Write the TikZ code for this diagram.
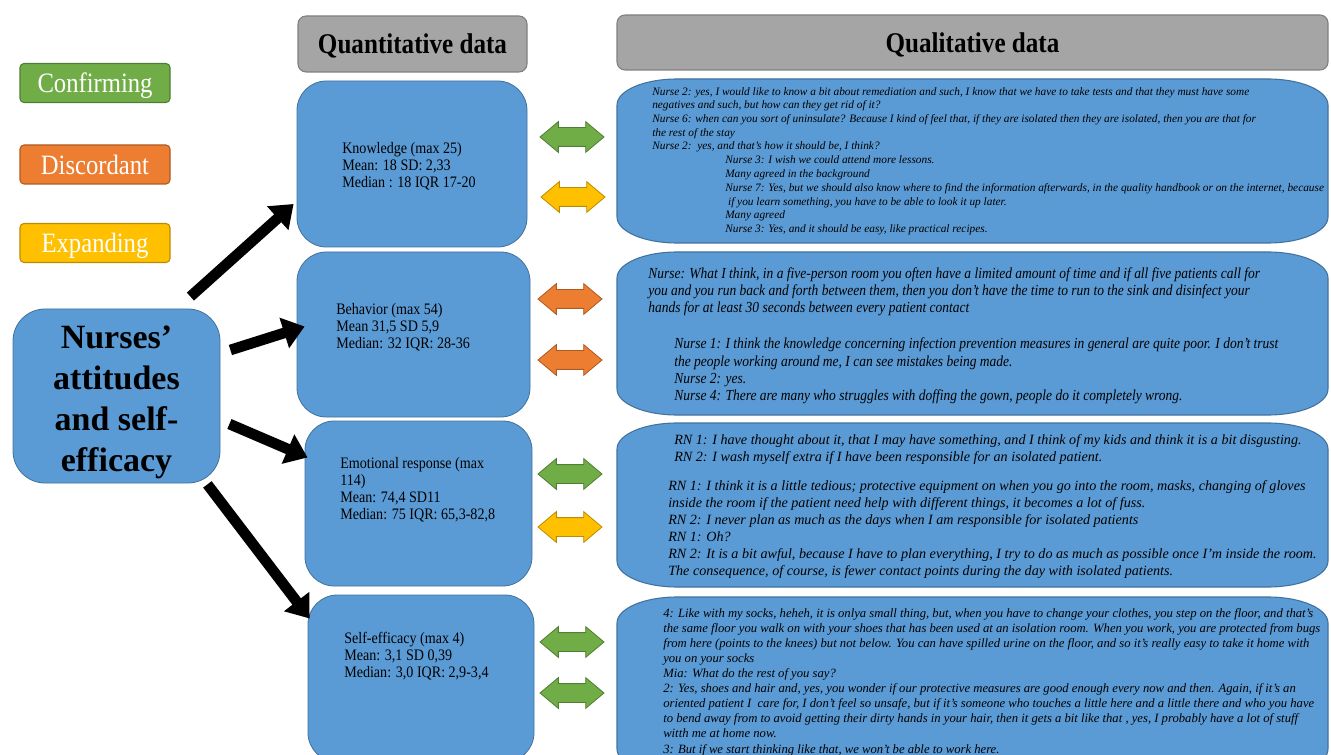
\documentclass[tikz,border=0pt]{standalone}
\usepackage{fontspec}
\usepackage{tikz}
\usetikzlibrary{arrows.meta,positioning,calc,shapes.arrows}
\setmainfont{Liberation Serif}
\newfontfamily\narrowserif{Liberation Serif}[FakeStretch=0.88]
\definecolor{nrblue}{HTML}{5B9BD5}
\definecolor{nrbluedark}{HTML}{41719C}
\definecolor{nrgray}{HTML}{A5A5A5}
\definecolor{nrgraydark}{HTML}{7F7F7F}
\definecolor{nrgreen}{HTML}{70AD47}
\definecolor{nrgreendark}{HTML}{507E32}
\definecolor{nrorange}{HTML}{ED7D31}
\definecolor{nrorangedark}{HTML}{AE5A21}
\definecolor{nryellow}{HTML}{FFC000}
\definecolor{nryellowdark}{HTML}{BC8C00}
\tikzset{
  headBox/.style={draw=nrgraydark, fill=nrgray, rounded corners=6pt, line width=0.8pt, text depth=0pt, font=\narrowserif\bfseries\fontsize{21.4pt}{24pt}\selectfont},
  legendBox/.style={draw=#1dark, fill=#1, rounded corners=3pt, line width=0.8pt, minimum width=112.5pt, minimum height=29.25pt, text depth=0pt, text=white, font=\narrowserif\fontsize{21pt}{24pt}\selectfont},
  quantBox/.style={draw=nrbluedark, fill=nrblue, rounded corners=22pt, line width=0.6pt},
  quantText/.style={anchor=base west, inner sep=0pt, align=left, font=\narrowserif\fontsize{12pt}{12.75pt}\selectfont},
  quoteBox/.style={draw=nrbluedark, fill=nrblue, line width=0.8pt},
  quoteText/.style={anchor=base west, inner sep=0pt, align=left},
  bigArrow/.style={-{Triangle[length=16pt,width=23pt]}, line width=8pt},
  dblArrow/.style={double arrow, draw=#1dark, fill=#1, line width=0.6pt, minimum height=48pt, minimum width=22.5pt,
    double arrow head extend=4.5pt, double arrow tip angle=80, inner xsep=0pt, inner ysep=6.75pt}
}

\begin{document}
\begin{tikzpicture}[x=0.75pt,y=-0.75pt]
  \clip (0,0) rectangle (1331,755);
  % legend and headers
  \node[legendBox=nrgreen] (conf) at (95,83) {Confirming};
  \node[legendBox=nrorange] (disc) at (95,164.5) {Discordant};
  \node[legendBox=nryellow] (expa) at (95,243) {Expanding};
  \node[headBox, minimum width=171.75pt, minimum height=42pt] (quanthead) at (412.5,44) {Quantitative data};
  \node[headBox, minimum width=533.25pt, minimum height=41.25pt] (qualhead) at (972.5,42.5) {Qualitative data};
  % central theme
  \node[quantBox, rounded corners=24pt, minimum width=155.25pt, minimum height=130.5pt] (theme) at (116.5,396) {};
  \node[align=center, font=\bfseries\fontsize{25.5pt}{30.75pt}\selectfont] (themetext) at ($(theme.center)+(0,6)$) {Nurses’\\attitudes\\and self-\\efficacy};
  % quantitative boxes
  \node[quantBox, minimum width=172.5pt, minimum height=124.5pt] (know) at (412,164) {};
  \node[quantBox, minimum width=174.75pt, minimum height=123.75pt] (behav) at (413.5,334.5) {};
  \node[quantBox, minimum width=170.25pt, minimum height=123.75pt] (emot) at (418.5,503.5) {};
  \node[quantBox, minimum width=169.5pt, minimum height=125.25pt] (selfeff) at (421,678.5) {};
  \node[quantText] (knowtext) at (342,188) {Knowledge (max 25)\\Mean: 18 SD: 2,33\\Median : 18 IQR 17-20};
  \node[quantText] (behavtext) at (336,349) {Behavior (max 54)\\Mean 31,5 SD 5,9\\Median: 32 IQR: 28-36};
  \node[quantText] (emottext) at (340,519) {Emotional response (max\\114)\\Mean: 74,4 SD11\\Median: 75 IQR: 65,3-82,8};
  \node[quantText] (selftext) at (344,677) {Self-efficacy (max 4)\\Mean: 3,1 SD 0,39\\Median: 3,0 IQR: 2,9-3,4};
  % arrows from the theme
  \draw[bigArrow] ($(theme.north east)+(-30,-12)$) -- ($(know.west)+(-3,40)$);
  \draw[bigArrow] ($(theme.east)+(10,-46)$) -- ($(behav.west)+(8,-8)$);
  \draw[bigArrow] ($(theme.east)+(9,28)$) -- ($(emot.west)+(3,-46)$);
  \draw[bigArrow] ($(theme.south east)+(-13,1)$) -- ($(selfeff.west)+(2,-60)$);
  % links between the two kinds of data
  \node[dblArrow=nrgreen] (link1a) at (572,137) {};
  \node[dblArrow=nryellow] (link1b) at (573,197) {};
  \node[dblArrow=nrorange] (link2a) at (570,299) {};
  \node[dblArrow=nrorange] (link2b) at (570,360) {};
  \node[dblArrow=nrgreen] (link3a) at (570,474) {};
  \node[dblArrow=nryellow] (link3b) at (570,527) {};
  \node[dblArrow=nrgreen] (link4a) at (572,642) {};
  \node[dblArrow=nrgreen] (link4b) at (572,693) {};
  % qualitative boxes
  \foreach \ytop/\ybot in {79/243, 252/415, 423/587, 597/775}{
    \draw[quoteBox] (677,\ytop) -- (1268,\ytop)
      arc[start angle=-90, end angle=0, x radius=60, y radius=26] -- (1328,\ybot-26)
      arc[start angle=0, end angle=90, x radius=60, y radius=26] -- (677,\ybot)
      arc[start angle=90, end angle=180, x radius=60, y radius=26] -- (617,\ytop+26)
      arc[start angle=180, end angle=270, x radius=60, y radius=26] -- cycle;
  }
  \node[quoteText, font=\itshape\fontsize{8.5pt}{10.3pt}\selectfont] (quote1a) at (652,150) {Nurse 2: yes, I would like to know a bit about remediation and such, I know that we have to take tests and that they must have some\\negatives and such, but how can they get rid of it?\\Nurse 6: when can you sort of uninsulate? Because I kind of feel that, if they are isolated then they are isolated, then you are that for\\the rest of the stay\\Nurse 2:\ \ yes, and that's how it should be, I think?};
  \node[quoteText, font=\itshape\fontsize{8.5pt}{10.3pt}\selectfont] (quote1b) at (725,232.5) {Nurse 3: I wish we could attend more lessons.\\Many agreed in the background\\Nurse 7: Yes, but we should also know where to find the information afterwards, in the quality handbook or on the internet, because\\\ if you learn something, you have to be able to look it up later.\\Many agreed\\Nurse 3: Yes, and it should be easy, like practical recipes.};
  \node[quoteText, font=\narrowserif\itshape\fontsize{11.5pt}{13.1pt}\selectfont] (quote2a) at (648,313) {Nurse: What I think, in a five-person room you often have a limited amount of time and if all five patients call for\\you and you run back and forth between them, then you don’t have the time to run to the sink and disinfect your\\hands for at least 30 seconds between every patient contact};
  \node[quoteText, font=\narrowserif\itshape\fontsize{11.5pt}{13.1pt}\selectfont] (quote2b) at (674,401) {Nurse 1: I think the knowledge concerning infection prevention measures in general are quite poor. I don’t trust\\the people working around me, I can see mistakes being made.\\Nurse 2: yes.\\Nurse 4: There are many who struggles with doffing the gown, people do it completely wrong.};
  \node[quoteText, font=\itshape\fontsize{10.6pt}{12.75pt}\selectfont] (quote3a) at (674,461) {RN 1: I have thought about it, that I may have something, and I think of my kids and think it is a bit disgusting.\\RN 2: I wash myself extra if I have been responsible for an isolated patient.};
  \node[quoteText, font=\itshape\fontsize{10.6pt}{12.75pt}\selectfont] (quote3b) at (668,575) {RN 1: I think it is a little tedious; protective equipment on when you go into the room, masks, changing of gloves\\inside the room if the patient need help with different things, it becomes a lot of fuss.\\RN 2: I never plan as much as the days when I am responsible for isolated patients\\RN 1: Oh?\\RN 2: It is a bit awful, because I have to plan everything, I try to do as much as possible once I’m inside the room.\\The consequence, of course, is fewer contact points during the day with isolated patients.};
  \node[quoteText, font=\itshape\fontsize{9.5pt}{11.3pt}\selectfont] (quote4) at (663,753) {4: Like with my socks, heheh, it is onlya small thing, but, when you have to change your clothes, you step on the floor, and that's\\the same floor you walk on with your shoes that has been used at an isolation room. When you work, you are protected from bugs\\from here (points to the knees) but not below. You can have spilled urine on the floor, and so it's really easy to take it home with\\you on your socks\\Mia: What do the rest of you say?\\2: Yes, shoes and hair and, yes, you wonder if our protective measures are good enough every now and then. Again, if it's an\\oriented patient I\ \ care for, I don't feel so unsafe, but if it's someone who touches a little here and a little there and who you have\\to bend away from to avoid getting their dirty hands in your hair, then it gets a bit like that , yes, I probably have a lot of stuff\\witth me at home now.\\3: But if we start thinking like that, we won't be able to work here.};
\end{tikzpicture}
\end{document}
